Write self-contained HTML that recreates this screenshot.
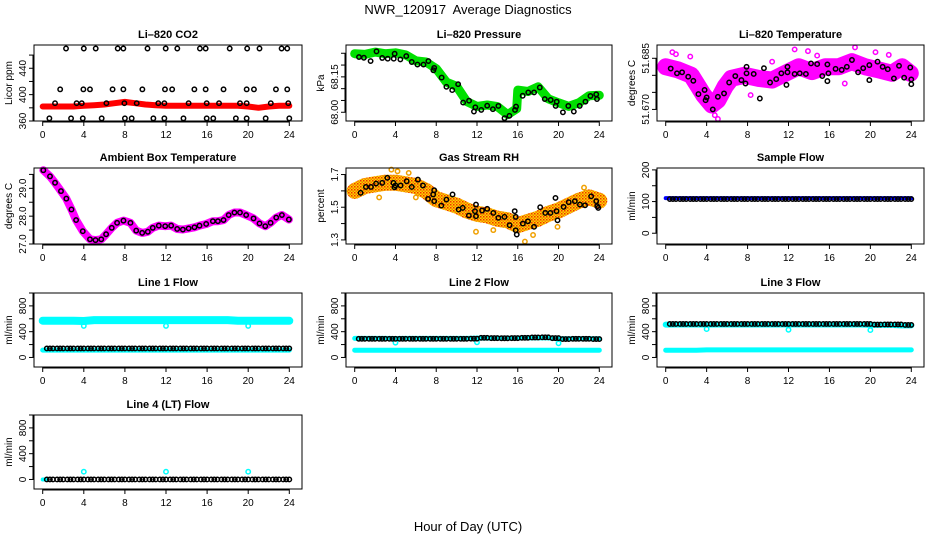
<!DOCTYPE html>
<html><head><meta charset="utf-8"><style>
html,body{margin:0;padding:0;background:#fff;}
svg{display:block;font-family:"Liberation Sans",Arial,sans-serif;}
</style></head><body>
<svg id="chart" width="936" height="540" viewBox="0 0 936 540">
<defs>
<pattern id="rhpat" width="3" height="3" patternUnits="userSpaceOnUse">
<rect width="3" height="3" fill="#ffd400"/><rect x="0" y="0" width="1.5" height="1.5" fill="#f03000"/><rect x="1.5" y="1.5" width="1.5" height="1.5" fill="#f08000"/>
</pattern>
</defs>
<text x="468" y="14" text-anchor="middle" font-size="13" xml:space="preserve">NWR_120917  Average Diagnostics</text>
<text x="468" y="531" text-anchor="middle" font-size="13">Hour of Day (UTC)</text>
</svg>
<script>
// ---------- data ----------
const xTicks = [0,4,8,12,16,20,24];
const hours25 = [0,1,2,3,4,5,6,7,8,9,10,11,12,13,14,15,16,17,18,19,20,21,22,23,24];

// CO2
const co2RedVals = [382,382,382,382,383,384,385,387,389,387,385,384,383,383,383,383,383,383,383,383,382,380,382,383,383];
const co2PtHours = [2.27,4.0,5.16,7.3,7.85,10.2,11.97,13.1,15.3,15.86,18.2,19.9,21.1,23.25,23.8,
 1.7,3.96,4.6,6.8,7.85,9.7,11.9,12.6,14.76,15.86,17.6,19.85,20.56,22.7,23.8,
 1.2,3.3,3.8,6.2,7.95,9.15,11.25,11.84,14.2,15.96,17.16,19.2,19.85,22.2,23.9,
 0.65,2.76,3.9,5.74,8.0,8.66,10.77,11.84,13.7,15.96,16.6,18.8,19.85,21.7,24.0];
const co2PtVals = [470,470,470,470,470,470,470,470,470,470,470,470,470,470,470,
 408,408,408,408,408,408,408,408,408,408,408,408,408,408,408,
 387,387,387,387,387,387,387,387,387,387,387,387,387,387,387,
 364,364,364,364,364,364,364,364,364,364,364,364,364,364,364];

// Pressure
const presBandHours = [0,1,2,3,4,5,6,7,8,9,10,11,12,13,14,15,15.9,16,17,18,19,20,21,22,23,24];
const presBandVals = [68.248,68.245,68.255,68.248,68.252,68.243,68.218,68.213,68.185,68.128,68.110,68.045,68.025,68.031,68.024,67.99,68.015,68.094,68.088,68.108,68.057,68.04,68.025,68.04,68.07,68.072];
const presPtHours = [0.42,0.9,1.56,2.14,2.7,3.24,3.83,3.92,4.48,5.06,5.6,6.16,6.75,7.23,7.72,7.8,8.53,9.0,9.57,10.15,10.64,11.22,11.7,11.84,12.42,13.0,13.56,14.1,14.7,15.18,15.73,15.83,16.48,17.03,17.6,18.16,18.65,19.23,19.72,19.82,20.43,20.96,21.5,22.08,22.64,23.13,23.7,23.77];
const presPtVals = [68.234,68.231,68.217,68.258,68.23,68.227,68.227,68.248,68.224,68.238,68.213,68.202,68.202,68.217,68.178,68.188,68.147,68.108,68.094,68.119,68.041,68.049,68.003,68.021,68.01,68.028,68.013,68.027,67.975,67.985,68.01,68.024,68.07,68.084,68.084,68.105,68.056,68.052,68.027,68.045,68.0,68.027,68.003,68.027,68.045,68.069,68.076,68.056];

// Li-820 temperature
const ltBandHours = [0,1.2,2.5,3.2,3.7,4.5,5.1,5.8,6.4,7.7,9.1,10.4,11.7,13,14.3,15.6,16.9,18.2,19.5,20.8,22.1,23.1,23.9];
const ltBandVals = [51.6825,51.6816,51.680,51.6767,51.6742,51.6713,51.6727,51.6767,51.6791,51.680,51.6791,51.6786,51.6806,51.6825,51.6811,51.6825,51.6825,51.684,51.6825,51.6816,51.6806,51.6825,51.6806];
const ltOutHours = [0.65,2.4,8.3,12.6,13.9,18.5,20.5,4.8,5.1,10.4,17.5,1.0,14.8,21.8];
const ltOutVals = [51.6868,51.6855,51.6742,51.6876,51.6871,51.6882,51.6868,51.6683,51.6672,51.684,51.6776,51.6862,51.6858,51.686];
const ltPtHours = [0.49,1.1,1.6,2.2,2.7,3.2,3.8,3.9,4.0,4.6,5.1,5.7,6.2,6.8,7.4,7.8,7.9,7.9,8.6,9.2,9.6,10.2,10.8,11.3,11.8,11.9,11.9,12.6,13.1,13.7,14.2,14.8,15.3,15.8,15.9,15.8,16.6,17.2,17.7,18.2,18.8,19.3,19.9,19.9,20.7,21.2,21.7,22.3,22.8,23.3,23.9,24.0,24.0];
const ltPtVals = [51.682,51.6806,51.6809,51.6796,51.6784,51.6745,51.6757,51.6727,51.6735,51.670,51.6737,51.6747,51.6779,51.6798,51.6786,51.6776,51.6825,51.6806,51.6804,51.6732,51.6821,51.6779,51.6789,51.6806,51.6772,51.6825,51.6809,51.6804,51.6806,51.6804,51.6835,51.6833,51.6798,51.6783,51.6806,51.6832,51.6819,51.6816,51.6825,51.6845,51.6809,51.6821,51.683,51.6786,51.684,51.6825,51.6818,51.6791,51.6828,51.6793,51.6823,51.6788,51.6774];

// Ambient box temperature
const ambHours = [0.06,0.71,1.2,1.78,2.3,2.8,3.25,3.9,4.6,5.14,5.7,6.17,6.72,7.24,7.86,8.54,9.1,9.68,10.23,10.71,11.3,11.92,12.5,13.09,13.64,14.2,14.77,15.26,15.91,16.56,17.05,17.6,18.1,18.66,19.2,19.8,20.52,21.1,21.66,22.18,22.73,23.28,23.96];
const ambVals = [29.65,29.43,29.2,28.9,28.63,28.24,27.86,27.46,27.17,27.14,27.17,27.35,27.58,27.76,27.84,27.76,27.48,27.4,27.44,27.58,27.66,27.64,27.66,27.54,27.52,27.56,27.6,27.66,27.72,27.82,27.82,27.86,28.04,28.13,28.13,28.04,27.92,27.74,27.64,27.76,27.95,28.04,27.88];

// Gas stream RH
const rhBandVals = [1.6,1.63,1.64,1.65,1.65,1.64,1.63,1.6,1.55,1.53,1.51,1.48,1.46,1.45,1.43,1.42,1.39,1.41,1.43,1.46,1.48,1.51,1.54,1.56,1.54];
const rhOutHours = [3.6,4.2,5.3,7.8,11.9,13.6,16.7,17.5,19.9,2.4,6.0,22.5];
const rhOutVals = [1.73,1.72,1.71,1.58,1.35,1.36,1.29,1.33,1.38,1.56,1.56,1.62];
const rhPtHours = [0.58,1.1,1.6,2.1,2.7,3.2,3.8,3.9,4.0,4.5,5.1,5.6,6.2,6.7,7.2,7.7,7.8,7.8,8.5,9.0,9.6,10.2,10.6,11.2,11.8,11.9,11.9,12.5,13.0,13.6,14.1,14.7,15.2,15.7,15.8,15.8,15.9,16.5,17.0,17.6,18.2,18.7,19.2,19.7,19.8,19.9,20.5,21.0,21.6,22.1,22.6,23.2,23.7,23.8,23.9];
const rhPtVals = [1.588,1.624,1.624,1.645,1.649,1.68,1.649,1.622,1.633,1.633,1.659,1.624,1.669,1.633,1.551,1.578,1.604,1.537,1.51,1.547,1.578,1.486,1.496,1.449,1.476,1.516,1.445,1.48,1.49,1.465,1.435,1.441,1.39,1.476,1.441,1.359,1.333,1.4,1.414,1.38,1.5,1.465,1.465,1.557,1.476,1.42,1.502,1.531,1.537,1.516,1.512,1.567,1.537,1.506,1.496];

// Sample flow
const sampBandVals = [111,111,111,111,111,111,111,111,111,111,111,111,111,111,111,111,111,111,111,111,111,111,111,111,111];
const sampPtVals = [108,108,108,108,108,108,108,108,108,108,108,108,108,108,108,108,108,108,108,108,108,108,108,108];

// Line flows (hourly)
const l1HiVals = [570,570,570,570,565,580,580,580,580,580,580,580,580,580,580,580,580,580,580,568,568,568,568,568,568];
const l1LoVals = [114,114,114,114,114,114,114,114,114,114,114,114,114,114,114,114,114,114,114,114,114,114,114,114,114];
const l1PtVals = [140,140,140,140,140,140,140,140,140,140,140,140,140,140,140,140,140,140,140,140,140,140,140,140];
const l2HiVals = [296,296,296,296,294,296,296,296,296,296,296,296,300,300,300,300,302,304,306,304,290,290,290,290,290];
const l2LoVals = [112,112,112,112,112,112,112,112,112,112,112,112,112,112,112,112,112,112,112,112,112,112,112,112,112];
const l2PtVals = [290,290,290,290,290,290,290,290,290,290,290,292,305,300,298,300,305,310,312,300,285,290,290,285];
const l3HiVals = [510,512,512,512,510,512,512,512,512,512,512,512,512,512,512,512,512,512,512,512,505,505,505,498,498];
const l3LoVals = [112,112,112,112,118,118,118,118,118,118,118,118,118,118,118,118,118,118,118,118,118,118,118,118,118];
const l3PtVals = [520,520,520,520,520,520,520,520,520,520,520,520,520,520,520,520,520,520,520,520,510,512,512,505];
const l4PtVals = [0,0,0,0,0,0,0,0,0,0,0,0,0,0,0,0,0,0,0,0,0,0,0,0];
const dipHours = [4,12,20];
const l1DipVals = [490,490,490];
const l2DipVals = [230,235,220];
const l3DipVals = [440,430,425];
const l4DipVals = [120,120,120];

// ---------- drawing ----------
const NS = 'http://www.w3.org/2000/svg';
const svg = document.getElementById('chart');
function mk(tag, attrs, parent){
  const e = document.createElementNS(NS, tag);
  for (const k in attrs) e.setAttribute(k, attrs[k]);
  (parent||svg).appendChild(e);
  return e;
}
const cols = [[34,302],[346,612],[657,924]];
const rows = [[45,121],[168,244],[293,367],[415,489]];

function panel(name, title, ylab, col, row, ydom, ticks, labels, fmt){
  const [L,R] = cols[col], [T,B] = rows[row];
  const g = mk('g', {});
  
  
  const sx = h => L + 8.7 + h * (R - L - 21.4) / 24;
  const sy = v => B - (v - ydom[0]) / (ydom[1] - ydom[0]) * (B - T);
  const plot = mk('g', {}, g);
  
  
  const box = mk('rect', {x:L, y:T, width:R-L, height:B-T, fill:'none', stroke:'#000', 'stroke-width':1}, g);
  
  
  const t = mk('text', {x:(L+R)/2, y:T-7, 'text-anchor':'middle', 'font-size':11, 'font-weight':'bold'}, g);
  t.textContent = title;
  
  
  const yl = mk('text', {transform:`translate(${L-22},${(T+B)/2}) rotate(-90)`, 'text-anchor':'middle', 'font-size':10}, g);
  yl.textContent = ylab;
  
  
  const xa = mk('g', {}, g);
  
  
  mk('line', {x1:sx(xTicks[0]), x2:sx(xTicks[xTicks.length-1]), y1:B+1, y2:B+1, stroke:'#000'}, xa);
  xTicks.forEach(h => {
    mk('line', {x1:sx(h), x2:sx(h), y1:B, y2:B+5, stroke:'#000'}, xa);
    const tl = mk('text', {x:sx(h), y:B+17, 'text-anchor':'middle', 'font-size':10}, xa);
    tl.textContent = h;
    
    
  });
  const ya = mk('g', {}, g);
  
  
  mk('line', {x1:L-1, x2:L-1, y1:sy(ticks[0]), y2:sy(ticks[ticks.length-1]), stroke:'#000'}, ya);
  ticks.forEach(v => mk('line', {x1:L-5, x2:L, y1:sy(v), y2:sy(v), stroke:'#000'}, ya));
  labels.forEach(v => {
    const tl = mk('text', {transform:`translate(${L-8},${sy(v)}) rotate(-90)`, 'text-anchor':'middle', 'font-size':10}, ya);
    tl.textContent = fmt(v);
    
    
  });
  return {g:plot, sx, sy};
}
function band(p, hs, vs, color, w, name){
  const pts = hs.map((h,i)=>p.sx(h).toFixed(1)+','+p.sy(vs[i]).toFixed(1)).join(' ');
  const pl = mk('polyline', {points:pts, fill:'none', stroke:color, 'stroke-width':w, 'stroke-linejoin':'round', 'stroke-linecap':'round'}, p.g);
  
  
}
function pts(p, hs, vs, color, name, r, sw){
  hs.forEach((h,i)=>{
    const c = mk('circle', {cx:p.sx(h), cy:p.sy(vs[i]), r:r||2.2, fill:'none', stroke:color, 'stroke-width':sw||1.5}, p.g);
    
    
  });
}
function hourlyPts(p, vals, color, name){
  const hs = [], vs = [];
  vals.forEach((v,i)=>{ for (let k=0;k<3;k++){ hs.push(i+0.4+k*0.3); vs.push(v); } });
  pts(p, hs, vs, color, name);
}
const f0 = v => String(v), f1 = v => v.toFixed(1), f2 = v => v.toFixed(2), f3 = v => v.toFixed(3);
const flowTicks = [0,200,400,600,800,1000], flowLabels = [0,400,800];

let p = panel('co2', 'Li\u2013820 CO2', 'Licor ppm', 0, 0, [360,475.3], [360,380,400,420,440,460], [360,400,440], f0);
band(p, hours25, co2RedVals, '#ff0000', 6, 'co2-band');
pts(p, co2PtHours, co2PtVals, '#000', 'co2-point');

p = panel('pressure', 'Li\u2013820 Pressure', 'kPa', 1, 0, [67.963,68.285], [68.00,68.05,68.10,68.15,68.20,68.25], [68.00,68.15], f2);
band(p, presBandHours, presBandVals, '#00e000', 9, 'pressure-band');
pts(p, presPtHours, presPtVals, '#000', 'pressure-point');

p = panel('li820-temp', 'Li\u2013820 Temperature', 'degrees C', 2, 0, [51.6666,51.6889], [51.670,51.675,51.680,51.685], [51.670,51.685], f3);
band(p, ltBandHours, ltBandVals, '#ff00ff', 17, 'li820-temp-band');
pts(p, ltOutHours, ltOutVals, '#ff00ff', 'li820-temp-outlier');
pts(p, ltPtHours, ltPtVals, '#000', 'li820-temp-point');

p = panel('ambient', 'Ambient Box Temperature', 'degrees C', 0, 1, [27.0,29.73], [27.0,27.5,28.0,28.5,29.0,29.5], [27.0,28.0,29.0], f1);
band(p, ambHours, ambVals, '#ff00ff', 8, 'ambient-band');
pts(p, ambHours, ambVals, '#000', 'ambient-point');

p = panel('rh', 'Gas Stream RH', 'percent', 1, 1, [1.275,1.74], [1.3,1.4,1.5,1.6,1.7], [1.3,1.5,1.7], f1);
band(p, hours25, rhBandVals, 'url(#rhpat)', 16, 'rh-band');
pts(p, rhOutHours, rhOutVals, '#f0a000', 'rh-outlier');
pts(p, rhPtHours, rhPtVals, '#000', 'rh-point');

p = panel('sample-flow', 'Sample Flow', 'ml/min', 2, 1, [-34,206], [0,50,100,150,200], [0,100,200], f0);
band(p, hours25, sampBandVals, '#0000ff', 4, 'sample-flow-band');
hourlyPts(p, sampPtVals, '#000', 'sample-flow-point');

p = panel('line1', 'Line 1 Flow', 'ml/min', 0, 2, [-148,1000], flowTicks, flowLabels, f0);
band(p, hours25, l1HiVals, '#00ffff', 8, 'line1-high-band');
band(p, hours25, l1LoVals, '#00ffff', 5, 'line1-low-band');
pts(p, dipHours, l1DipVals, '#00ffff', 'line1-dip');
hourlyPts(p, l1PtVals, '#000', 'line1-point');

p = panel('line2', 'Line 2 Flow', 'ml/min', 1, 2, [-148,1000], flowTicks, flowLabels, f0);
band(p, hours25, l2HiVals, '#00ffff', 5, 'line2-high-band');
band(p, hours25, l2LoVals, '#00ffff', 5, 'line2-low-band');
pts(p, dipHours, l2DipVals, '#00ffff', 'line2-dip');
hourlyPts(p, l2PtVals, '#000', 'line2-point');

p = panel('line3', 'Line 3 Flow', 'ml/min', 2, 2, [-148,1000], flowTicks, flowLabels, f0);
band(p, hours25, l3HiVals, '#00ffff', 6, 'line3-high-band');
band(p, hours25, l3LoVals, '#00ffff', 5, 'line3-low-band');
pts(p, dipHours, l3DipVals, '#00ffff', 'line3-dip');
hourlyPts(p, l3PtVals, '#000', 'line3-point');

p = panel('line4', 'Line 4 (LT) Flow', 'ml/min', 0, 3, [-148,1000], flowTicks, flowLabels, f0);
band(p, [0,0.3], [0,0], '#00ffff', 4, 'line4-band');
pts(p, dipHours, l4DipVals, '#00ffff', 'line4-outlier');
hourlyPts(p, l4PtVals, '#000', 'line4-point');
</script>
</body></html>
